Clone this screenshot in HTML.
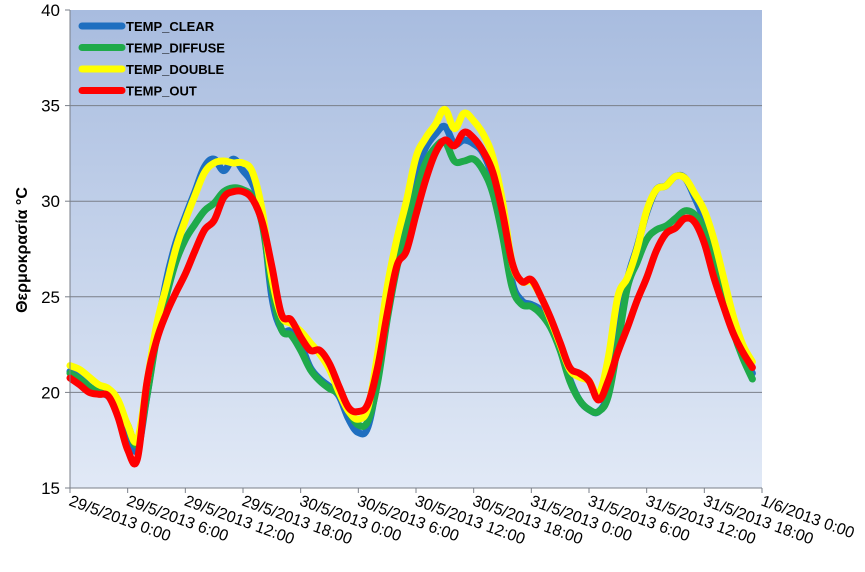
<!DOCTYPE html>
<html><head><meta charset="utf-8"><style>
body{margin:0;background:#fff;}
svg{display:block;font-family:"Liberation Sans",sans-serif;}
</style></head><body>
<svg id="chart" width="865" height="572">
<defs>
<linearGradient id="bg" x1="0" y1="0" x2="0" y2="1">
<stop offset="0" stop-color="#a8bcdf"/><stop offset="1" stop-color="#e1e9f6"/>
</linearGradient>
</defs>
<rect x="70" y="10" width="692" height="478" fill="url(#bg)"/>
<g id="grid"></g>
<g id="series"></g>
<g id="axes"></g>
<text transform="translate(27,250) rotate(-90)" text-anchor="middle" font-size="16" font-weight="bold" fill="#000">Θερμοκρασία °C</text>
<g id="legend"></g>
</svg>
<script>
const yTicks=[15,20,25,30,35,40];
const xTickLabels=["29/5/2013 0:00","29/5/2013 6:00","29/5/2013 12:00","29/5/2013 18:00","30/5/2013 0:00","30/5/2013 6:00","30/5/2013 12:00","30/5/2013 18:00","31/5/2013 0:00","31/5/2013 6:00","31/5/2013 12:00","31/5/2013 18:00","1/6/2013 0:00"];
const seriesNames=["TEMP_CLEAR","TEMP_DIFFUSE","TEMP_DOUBLE","TEMP_OUT"];
const tempClear=[21.1,20.8,20.3,20.0,19.8,19.2,17.8,17.0,19.8,23.0,25.8,27.8,29.2,30.5,31.8,32.2,31.6,32.2,31.6,30.9,29.3,25.0,23.3,23.2,22.5,21.3,20.7,20.3,19.8,18.6,17.9,18.2,20.8,24.5,27.5,29.5,31.5,32.8,33.5,33.9,33.0,33.2,33.0,32.5,31.2,29.0,25.8,24.8,24.6,24.3,23.6,22.3,20.7,19.6,19.1,19.0,20.0,23.0,25.9,27.6,29.4,30.6,30.8,31.3,31.2,30.2,29.0,27.5,25.5,23.6,22.0,21.0];
const tempDiffuse=[21.0,20.7,20.3,20.0,19.9,19.3,18.3,17.3,19.8,22.8,25.0,26.8,28.0,28.8,29.5,29.9,30.5,30.7,30.6,30.2,28.8,25.5,23.3,23.0,22.2,21.2,20.6,20.2,19.9,19.0,18.3,18.5,20.5,23.8,26.5,28.5,30.5,32.0,32.8,33.1,32.1,32.1,32.2,31.6,30.4,28.2,25.5,24.6,24.5,24.1,23.4,22.2,20.6,19.6,19.1,19.0,19.8,22.5,25.5,26.8,28.0,28.5,28.7,29.1,29.5,29.3,28.5,27.0,25.0,23.2,21.8,20.7];
const tempDouble=[21.4,21.2,20.8,20.4,20.2,19.6,18.3,17.5,20.5,23.5,25.5,27.5,29.0,30.3,31.5,32.0,32.1,32.0,32.0,31.5,29.5,26.0,24.0,23.6,23.2,22.6,22.0,21.2,20.0,19.0,18.6,19.2,22.0,25.5,28.0,30.0,32.3,33.3,34.0,34.8,33.8,34.6,34.2,33.5,32.3,30.0,26.8,25.8,25.8,25.0,23.8,22.5,21.2,20.8,20.6,19.9,21.8,25.0,26.0,27.5,29.5,30.6,30.8,31.3,31.2,30.4,29.5,28.0,26.0,24.0,22.5,21.6];
const tempOut=[20.75,20.4,20.0,19.9,19.8,18.7,17.0,16.5,20.5,22.7,24.1,25.2,26.2,27.4,28.5,29.0,30.2,30.5,30.5,30.1,28.9,26.6,24.1,23.8,22.9,22.2,22.2,21.5,20.3,19.2,19.0,19.4,21.3,24.1,26.6,27.4,29.3,31.1,32.5,33.2,32.9,33.6,33.3,32.6,31.5,29.4,26.8,25.8,25.9,25.0,23.9,22.6,21.3,21.0,20.6,19.6,20.6,22.1,23.4,24.8,26.0,27.4,28.3,28.6,29.1,28.9,27.8,26.0,24.5,23.1,22.1,21.3];
const colors=["#1f6fc0","#1faa4a","#ffff00","#ff0000"];
const NS="http://www.w3.org/2000/svg";
const X0=70,X1=762,Y0=488,Y1=10,HMAX=72;
function xs(h){return X0+(X1-X0)*h/HMAX;}
function ys(t){return Y0-(Y0-Y1)*(t-15)/25;}
function mk(tag,attrs,parent){const e=document.createElementNS(NS,tag);for(const k in attrs)e.setAttribute(k,attrs[k]);parent.appendChild(e);return e;}
function smooth(p){let d='M'+p[0][0]+','+p[0][1];for(let i=0;i<p.length-1;i++){const a=p[i-1]||p[i],b=p[i],c=p[i+1],e=p[i+2]||c;const t=0.18;
d+=' C'+(b[0]+(c[0]-a[0])*t)+','+(b[1]+(c[1]-a[1])*t)+' '+(c[0]-(e[0]-b[0])*t)+','+(c[1]-(e[1]-b[1])*t)+' '+c[0]+','+c[1];}return d;}
const grid=document.getElementById('grid'),axes=document.getElementById('axes'),ser=document.getElementById('series'),leg=document.getElementById('legend');
yTicks.forEach(t=>{
 if(t>15&&t<40){const l=mk('line',{x1:X0,x2:X1,y1:ys(t),y2:ys(t),stroke:'#7a7f88','stroke-width':1},grid);
 
 }
 const tk=mk('line',{x1:X0-5,x2:X0,y1:ys(t),y2:ys(t),stroke:'#7a7f88'},axes);
 
 
 const tx=mk('text',{x:X0-10,y:ys(t)+6,'text-anchor':'end','font-size':17,fill:'#000'},axes);
 tx.textContent=t;
 
 
});
const ya=mk('line',{x1:X0,x2:X0,y1:Y1,y2:Y0,stroke:'#7a7f88'},axes);


const xa=mk('line',{x1:X0,x2:X1,y1:Y0,y2:Y0,stroke:'#7a7f88'},axes);


xTickLabels.forEach((lab,i)=>{
 const x=xs(i*6);
 const tk=mk('line',{x1:x,x2:x,y1:Y0,y2:Y0+5,stroke:'#7a7f88'},axes);
 
 
 const tx=mk('text',{transform:`translate(${x-2},${Y0+17}) rotate(20)`,'font-size':16,fill:'#000'},axes);
 tx.textContent=lab;
 
 
});
[tempClear,tempDiffuse,tempDouble,tempOut].forEach((arr,si)=>{
 const pts=arr.map((v,i)=>[xs(i),ys(v)]);
 const p=mk('path',{d:smooth(pts),fill:'none',stroke:colors[si],'stroke-width':7,'stroke-linejoin':'round','stroke-linecap':'round'},ser);
 
 
});
seriesNames.forEach((n,i)=>{
 const y=26+i*21.5;
 const l=mk('line',{x1:82,x2:122,y1:y,y2:y,stroke:colors[i],'stroke-width':7,'stroke-linecap':'round'},leg);
 
 
 const t=mk('text',{x:126,y:y+5,'font-size':13,'font-weight':'bold',fill:'#000'},leg);
 t.textContent=n;
 
 
});
</script>
</body></html>
